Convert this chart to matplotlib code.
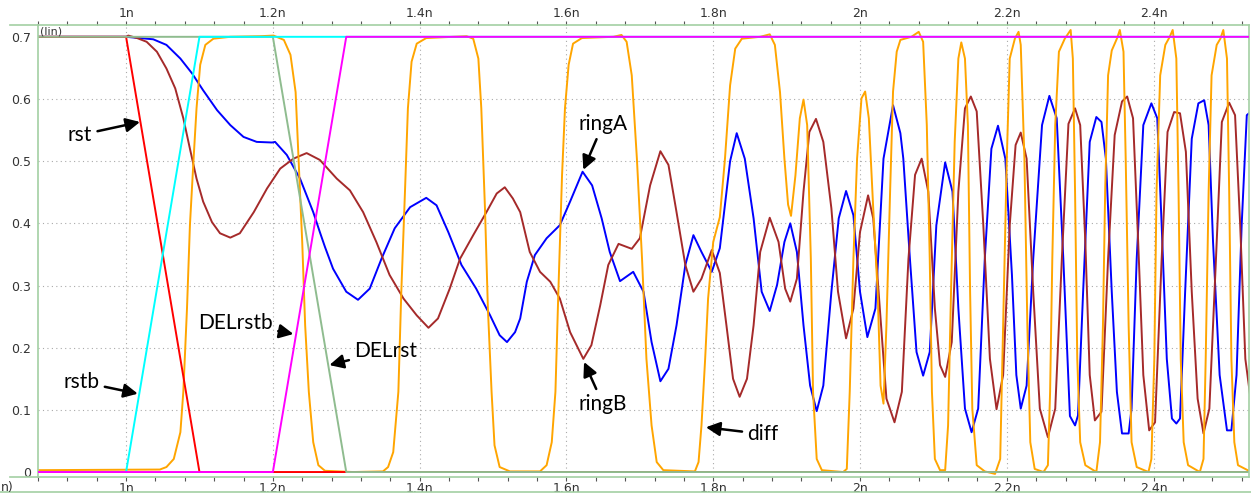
import matplotlib
matplotlib.use("Agg")
import matplotlib.pyplot as plt
from matplotlib.ticker import MultipleLocator, FuncFormatter
from matplotlib.lines import Line2D

# ---- waveform samples (time in ns, value in V) ----
T0, T1 = 0.88, 2.53

rst_t = [T0, 1.0, 1.1, T1]
rst_v = [0.7, 0.7, 0.0, 0.0]
rstb_t = [T0, 1.0, 1.1, T1]
rstb_v = [0.0, 0.0, 0.7, 0.7]
delrst_t = [T0, 1.2, 1.3, T1]
delrst_v = [0.7, 0.7, 0.0, 0.0]
delrstb_t = [T0, 1.2, 1.3, T1]
delrstb_v = [0.0, 0.0, 0.7, 0.7]

ringA_t = [0.880, 1.000, 1.019, 1.037, 1.055, 1.074, 1.090, 1.105, 1.124, 1.142, 1.160, 1.178,
           1.199, 1.203, 1.219, 1.237, 1.255, 1.264, 1.271, 1.282, 1.300, 1.316, 1.332, 1.348,
           1.366, 1.387, 1.409, 1.423, 1.439, 1.457, 1.477, 1.496, 1.509, 1.519, 1.530, 1.537,
           1.546, 1.557, 1.573, 1.591, 1.605, 1.622, 1.635, 1.648, 1.659, 1.673, 1.691, 1.705,
           1.716, 1.728, 1.739, 1.750, 1.762, 1.773, 1.784, 1.798, 1.809, 1.816, 1.823, 1.832,
           1.843, 1.855, 1.866, 1.877, 1.887, 1.897, 1.905, 1.914, 1.923, 1.932, 1.941, 1.950,
           1.961, 1.971, 1.981, 1.991, 2.000, 2.010, 2.021, 2.032, 2.045, 2.055, 2.059, 2.068,
           2.077, 2.086, 2.095, 2.104, 2.116, 2.126, 2.134, 2.143, 2.152, 2.161, 2.170, 2.179,
           2.188, 2.198, 2.207, 2.213, 2.219, 2.227, 2.236, 2.248, 2.258, 2.268, 2.277, 2.286,
           2.293, 2.297, 2.304, 2.313, 2.322, 2.329, 2.335, 2.343, 2.350, 2.357, 2.366, 2.370,
           2.377, 2.386, 2.397, 2.405, 2.411, 2.418, 2.425, 2.431, 2.436, 2.443, 2.452, 2.461,
           2.469, 2.475, 2.481, 2.490, 2.500, 2.506, 2.513, 2.520, 2.527, 2.533]
ringA_v = [0.700, 0.700, 0.698, 0.696, 0.687, 0.665, 0.641, 0.614, 0.582, 0.558, 0.539, 0.531,
           0.530, 0.531, 0.510, 0.472, 0.418, 0.386, 0.362, 0.327, 0.290, 0.277, 0.295, 0.343,
           0.392, 0.426, 0.441, 0.429, 0.386, 0.333, 0.295, 0.252, 0.220, 0.209, 0.225, 0.247,
           0.306, 0.349, 0.376, 0.397, 0.435, 0.483, 0.461, 0.408, 0.354, 0.307, 0.322, 0.290,
           0.209, 0.146, 0.166, 0.236, 0.333, 0.381, 0.354, 0.322, 0.360, 0.430, 0.500, 0.545,
           0.504, 0.408, 0.290, 0.259, 0.301, 0.370, 0.400, 0.354, 0.236, 0.139, 0.098, 0.139,
           0.290, 0.408, 0.452, 0.413, 0.290, 0.217, 0.263, 0.504, 0.590, 0.545, 0.504, 0.343,
           0.193, 0.155, 0.193, 0.397, 0.498, 0.451, 0.263, 0.102, 0.064, 0.102, 0.343, 0.520,
           0.557, 0.504, 0.317, 0.156, 0.102, 0.139, 0.343, 0.558, 0.605, 0.569, 0.343, 0.090,
           0.075, 0.091, 0.290, 0.531, 0.571, 0.563, 0.504, 0.290, 0.129, 0.062, 0.062, 0.102,
           0.343, 0.558, 0.593, 0.569, 0.397, 0.182, 0.086, 0.078, 0.086, 0.290, 0.536, 0.593,
           0.598, 0.558, 0.370, 0.156, 0.067, 0.067, 0.156, 0.397, 0.574, 0.580]

ringB_t = [0.880, 1.000, 1.003, 1.015, 1.028, 1.042, 1.055, 1.067, 1.078, 1.087, 1.096, 1.105,
           1.117, 1.128, 1.142, 1.155, 1.174, 1.192, 1.210, 1.228, 1.246, 1.264, 1.287, 1.305,
           1.323, 1.341, 1.359, 1.378, 1.396, 1.412, 1.425, 1.441, 1.455, 1.473, 1.491, 1.505,
           1.516, 1.527, 1.537, 1.550, 1.564, 1.578, 1.591, 1.605, 1.623, 1.634, 1.646, 1.657,
           1.671, 1.689, 1.700, 1.714, 1.728, 1.739, 1.750, 1.762, 1.773, 1.784, 1.798, 1.809,
           1.818, 1.827, 1.836, 1.846, 1.855, 1.864, 1.877, 1.889, 1.898, 1.905, 1.914, 1.923,
           1.931, 1.940, 1.950, 1.961, 1.970, 1.981, 1.991, 2.000, 2.011, 2.018, 2.027, 2.036,
           2.047, 2.057, 2.066, 2.075, 2.084, 2.093, 2.102, 2.109, 2.116, 2.125, 2.134, 2.143,
           2.151, 2.159, 2.168, 2.177, 2.186, 2.195, 2.204, 2.212, 2.219, 2.227, 2.236, 2.245,
           2.256, 2.266, 2.275, 2.284, 2.293, 2.300, 2.307, 2.313, 2.320, 2.329, 2.338, 2.347,
           2.357, 2.364, 2.372, 2.379, 2.386, 2.394, 2.402, 2.411, 2.419, 2.428, 2.436, 2.444,
           2.452, 2.460, 2.468, 2.476, 2.485, 2.493, 2.503, 2.511, 2.518, 2.525, 2.533]
ringB_v = [0.700, 0.700, 0.702, 0.698, 0.692, 0.676, 0.649, 0.617, 0.569, 0.520, 0.472, 0.435,
           0.402, 0.384, 0.377, 0.384, 0.418, 0.456, 0.488, 0.504, 0.513, 0.502, 0.472, 0.453,
           0.418, 0.370, 0.317, 0.279, 0.252, 0.232, 0.247, 0.295, 0.343, 0.381, 0.418, 0.448,
           0.458, 0.440, 0.418, 0.354, 0.322, 0.306, 0.279, 0.225, 0.182, 0.204, 0.268, 0.333,
           0.367, 0.359, 0.376, 0.461, 0.516, 0.494, 0.418, 0.333, 0.290, 0.311, 0.357, 0.320,
           0.236, 0.150, 0.121, 0.150, 0.236, 0.354, 0.409, 0.370, 0.295, 0.274, 0.311, 0.451,
           0.547, 0.568, 0.531, 0.424, 0.290, 0.215, 0.263, 0.386, 0.445, 0.408, 0.263, 0.118,
           0.080, 0.129, 0.343, 0.478, 0.504, 0.451, 0.263, 0.172, 0.153, 0.209, 0.451, 0.585,
           0.604, 0.580, 0.397, 0.182, 0.101, 0.156, 0.397, 0.526, 0.546, 0.504, 0.290, 0.102,
           0.056, 0.102, 0.343, 0.560, 0.585, 0.558, 0.370, 0.156, 0.083, 0.097, 0.343, 0.542,
           0.596, 0.604, 0.569, 0.370, 0.156, 0.067, 0.080, 0.343, 0.547, 0.579, 0.577, 0.515,
           0.290, 0.118, 0.062, 0.102, 0.343, 0.563, 0.594, 0.574, 0.397, 0.182, 0.110]

diff_t = [0.880, 1.046, 1.055, 1.065, 1.074, 1.078, 1.083, 1.087, 1.092, 1.096, 1.101, 1.108,
          1.119, 1.142, 1.183, 1.201, 1.215, 1.224, 1.231, 1.235, 1.240, 1.244, 1.249, 1.255,
          1.262, 1.271, 1.309, 1.350, 1.357, 1.364, 1.371, 1.375, 1.380, 1.384, 1.389, 1.396,
          1.409, 1.464, 1.473, 1.480, 1.484, 1.489, 1.493, 1.498, 1.502, 1.509, 1.523, 1.564,
          1.573, 1.580, 1.585, 1.589, 1.594, 1.598, 1.603, 1.609, 1.621, 1.664, 1.675, 1.682,
          1.689, 1.696, 1.703, 1.709, 1.716, 1.723, 1.732, 1.775, 1.780, 1.784, 1.789, 1.793,
          1.800, 1.809, 1.816, 1.823, 1.830, 1.839, 1.864, 1.877, 1.884, 1.891, 1.897, 1.902,
          1.906, 1.912, 1.918, 1.923, 1.928, 1.933, 1.936, 1.941, 1.948, 1.977, 1.982, 1.986,
          1.991, 1.996, 2.002, 2.007, 2.012, 2.018, 2.024, 2.028, 2.032, 2.036, 2.041, 2.045,
          2.050, 2.055, 2.070, 2.080, 2.086, 2.091, 2.095, 2.098, 2.102, 2.109, 2.116, 2.120,
          2.124, 2.129, 2.134, 2.138, 2.143, 2.147, 2.150, 2.153, 2.159, 2.170, 2.184, 2.191,
          2.195, 2.200, 2.204, 2.211, 2.216, 2.219, 2.224, 2.228, 2.232, 2.238, 2.250, 2.256,
          2.259, 2.262, 2.266, 2.271, 2.279, 2.287, 2.290, 2.293, 2.296, 2.300, 2.307, 2.322,
          2.327, 2.331, 2.334, 2.338, 2.343, 2.350, 2.354, 2.359, 2.362, 2.366, 2.370, 2.377,
          2.393, 2.397, 2.401, 2.404, 2.409, 2.416, 2.422, 2.426, 2.431, 2.434, 2.437, 2.441,
          2.447, 2.463, 2.468, 2.471, 2.475, 2.479, 2.486, 2.491, 2.495, 2.500, 2.503, 2.506,
          2.510, 2.515, 2.533]
diff_v = [0.003, 0.004, 0.008, 0.021, 0.064, 0.129, 0.263, 0.397, 0.504, 0.585, 0.655, 0.687,
          0.697, 0.700, 0.701, 0.702, 0.695, 0.671, 0.611, 0.504, 0.370, 0.236, 0.129, 0.048,
          0.011, 0.002, 0.000, 0.001, 0.008, 0.032, 0.129, 0.290, 0.451, 0.585, 0.660, 0.689,
          0.698, 0.701, 0.697, 0.665, 0.585, 0.424, 0.263, 0.129, 0.043, 0.008, 0.001, 0.001,
          0.011, 0.048, 0.129, 0.290, 0.477, 0.585, 0.655, 0.689, 0.698, 0.700, 0.703, 0.692,
          0.638, 0.504, 0.343, 0.182, 0.075, 0.016, 0.003, 0.001, 0.016, 0.075, 0.182, 0.279,
          0.370, 0.410, 0.504, 0.622, 0.681, 0.697, 0.700, 0.704, 0.687, 0.611, 0.504, 0.430,
          0.412, 0.477, 0.569, 0.599, 0.558, 0.343, 0.129, 0.021, 0.003, 0.000, 0.005, 0.129,
          0.343, 0.504, 0.601, 0.612, 0.569, 0.424, 0.290, 0.139, 0.110, 0.236, 0.451, 0.612,
          0.676, 0.695, 0.700, 0.708, 0.692, 0.558, 0.343, 0.129, 0.021, 0.003, 0.003, 0.075,
          0.290, 0.531, 0.665, 0.691, 0.665, 0.558, 0.290, 0.102, 0.011, 0.001, -0.003, 0.021,
          0.236, 0.504, 0.665, 0.697, 0.708, 0.687, 0.504, 0.236, 0.048, 0.005, 0.000, 0.011,
          0.129, 0.343, 0.558, 0.676, 0.697, 0.711, 0.665, 0.451, 0.182, 0.048, 0.011, 0.000,
          0.048, 0.236, 0.451, 0.638, 0.678, 0.697, 0.711, 0.676, 0.504, 0.236, 0.048, 0.008,
          0.000, 0.021, 0.182, 0.451, 0.638, 0.687, 0.700, 0.711, 0.665, 0.451, 0.182, 0.048,
          0.011, 0.000, 0.021, 0.182, 0.451, 0.638, 0.687, 0.697, 0.711, 0.665, 0.451, 0.182,
          0.048, 0.011, 0.000]

x_major = [1.0, 1.2, 1.4, 1.6, 1.8, 2.0, 2.2, 2.4]
y_ticks = [0.0, 0.1, 0.2, 0.3, 0.4, 0.5, 0.6, 0.7]

# annotations: label, arrow tip (t, v), text centre (t, v)
notes = [("rst", (1.019, 0.563), (0.937, 0.542)),
         ("rstb", (1.016, 0.126), (0.939, 0.145)),
         ("DELrstb", (1.228, 0.222), (1.149, 0.240)),
         ("DELrst", (1.277, 0.172), (1.354, 0.195)),
         ("ringA", (1.623, 0.486), (1.650, 0.560)),
         ("ringB", (1.624, 0.177), (1.650, 0.109)),
         ("diff", (1.790, 0.072), (1.868, 0.061))]

FRAME = "#a3cfa3"
W, H = 1251, 494
fig = plt.figure(figsize=(W/100, H/100), dpi=100)
ax = fig.add_axes([38/W, 1-477/H, (1249-38)/W, (477-25)/H])

lw = 1.4
ax.plot(ringA_t, ringA_v, color="#0000ff", lw=lw, zorder=2.0)
ax.plot(ringB_t, ringB_v, color="#a52a2a", lw=lw, zorder=2.1)
ax.plot(diff_t, diff_v, color="#ffa500", lw=lw, zorder=2.2)
ax.plot(rst_t, rst_v, color="#ff0000", lw=lw, zorder=2.3)
ax.plot(delrst_t, delrst_v, color="#8fbc8f", lw=lw, zorder=2.4)
ax.plot(rstb_t, rstb_v, color="#00ffff", lw=lw, zorder=2.5)
ax.plot(delrstb_t, delrstb_v, color="#ff00ff", lw=lw, zorder=2.6)

ax.set_xlim(T0, T1)
ax.set_ylim(-0.008, 0.719)

ax.xaxis.set_major_locator(MultipleLocator(0.2))
ax.xaxis.set_minor_locator(MultipleLocator(0.04))
ax.xaxis.set_major_formatter(FuncFormatter(lambda v, p: f"{v:g}n"))
ax.set_yticks(y_ticks)
ax.yaxis.set_major_formatter(FuncFormatter(lambda v, p: f"{v:g}"))

ax.tick_params(axis="x", which="both", top=True, bottom=True, labeltop=True, labelbottom=True,
               direction="out", length=3, width=0.8, color="#555555", labelsize=9,
               labelcolor="#333333", pad=0.5)
ax.tick_params(axis="y", length=0, labelsize=9, labelcolor="#333333", pad=5)

for x in x_major:
    ax.axvline(x, color="#aaaaaa", lw=0.8, ls=(0, (1, 3)), zorder=1)
for y in y_ticks[1:-1]:
    ax.axhline(y, color="#aaaaaa", lw=0.8, ls=(0, (1, 3)), zorder=1)

for s in ax.spines.values():
    s.set_color(FRAME)
    s.set_linewidth(1.2)

for label, tip, txt in notes:
    ax.annotate(label, xy=tip, xytext=txt, ha="center", va="center", fontsize=15,
                family=["Lato", "DejaVu Sans"], color="black", zorder=5,
                arrowprops=dict(arrowstyle="-|>,head_length=0.7,head_width=0.35",
                                color="black", lw=1.8, mutation_scale=12,
                                shrinkA=2, shrinkB=0))

fig.text(40/W, 1-32/H, "(lin)", fontsize=8, color="#333333", ha="left", va="center")
fig.text(1/W, 1-487/H, "n)", fontsize=9, color="#333333", ha="left", va="center")
fig.add_artist(Line2D([10/W, 38/W], [1-25/H, 1-25/H], color=FRAME, lw=1.2))
fig.add_artist(Line2D([10/W, 38/W], [1-477/H, 1-477/H], color=FRAME, lw=1.2))
fig.add_artist(Line2D([0, 1], [1-492/H, 1-492/H], color=FRAME, lw=1.2))

fig.savefig("out.png", dpi=100)
